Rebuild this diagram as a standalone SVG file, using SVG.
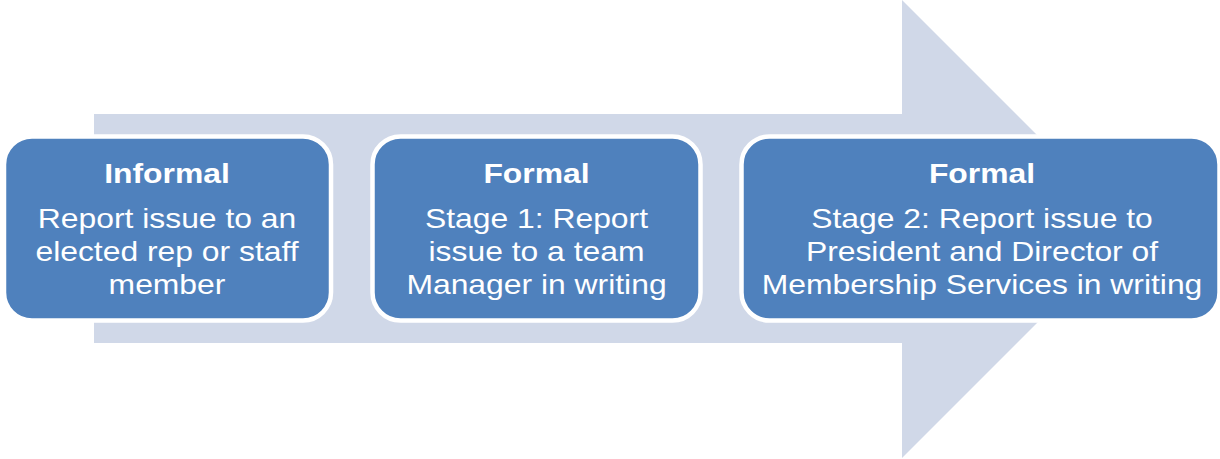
<svg xmlns="http://www.w3.org/2000/svg" width="1220" height="459" viewBox="0 0 1220 459">
  <style>
    .box { fill: #4F81BD; stroke: #FFFFFF; stroke-width: 4.5; }
    .title { font-family: "Liberation Sans", Arial, sans-serif; font-size: 27px; font-weight: bold; fill: #FFFFFF; text-anchor: middle; }
    .body { font-family: "Liberation Sans", Arial, sans-serif; font-size: 27px; fill: #FFFFFF; text-anchor: middle; }
  </style>
  <rect width="1220" height="459" fill="#FFFFFF"/>
  <!-- Background process arrow -->
  <g id="connectors">
    <polygon points="94,114 902,114 902,0 1131,229 902,458 902,343 94,343" fill="#D0D8E8"/>
  </g>
  <g id="node-informal">
    <rect class="box" x="4" y="136.5" width="327" height="184" rx="28" ry="28"/>
    <g transform="translate(167,0) scale(1.18,1)">
      <text class="title" x="0" y="183">Informal</text>
      <text class="body" x="0" y="228">Report issue to an</text>
      <text class="body" x="0" y="261">elected rep or staff</text>
      <text class="body" x="0" y="294">member</text>
    </g>
  </g>
  <g id="node-stage1">
    <rect class="box" x="372.5" y="136.5" width="328" height="184" rx="28" ry="28"/>
    <g transform="translate(536.5,0) scale(1.18,1)">
      <text class="title" x="0" y="183">Formal</text>
      <text class="body" x="0" y="228">Stage 1: Report</text>
      <text class="body" x="0" y="261">issue to a team</text>
      <text class="body" x="0" y="294">Manager in writing</text>
    </g>
  </g>
  <g id="node-stage2">
    <rect class="box" x="741.5" y="136.5" width="478" height="184" rx="28" ry="28"/>
    <g transform="translate(982,0) scale(1.18,1)">
      <text class="title" x="0" y="183">Formal</text>
      <text class="body" x="0" y="228">Stage 2: Report issue to</text>
      <text class="body" x="0" y="261">President and Director of</text>
      <text class="body" x="0" y="294">Membership Services in writing</text>
    </g>
  </g>
</svg>
